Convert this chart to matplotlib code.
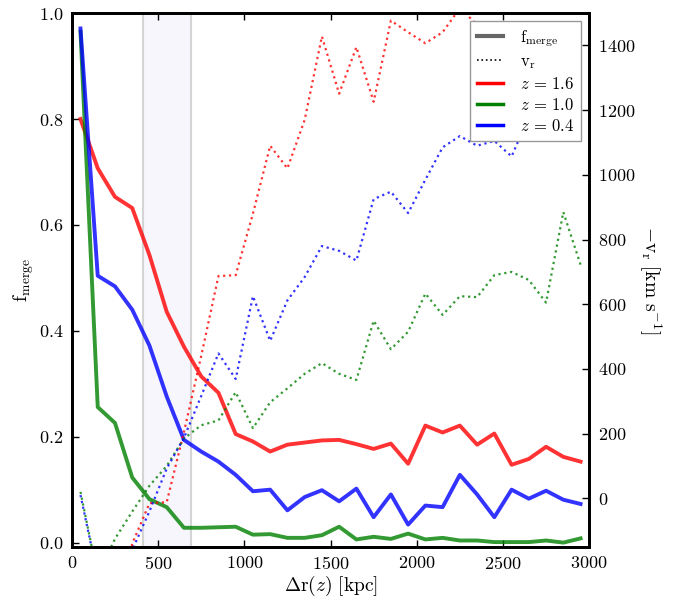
import numpy as np
import matplotlib
matplotlib.use("Agg")
import matplotlib.pyplot as plt
from matplotlib.lines import Line2D

plt.rcParams['font.family'] = 'serif'
plt.rcParams['font.serif'] = ['cmr10', 'DejaVu Serif']
plt.rcParams['mathtext.fontset'] = 'cm'
plt.rcParams['axes.formatter.use_mathtext'] = True
plt.rcParams['font.size'] = 13

# separation bins [kpc]
dr = np.arange(50, 3000, 100)

# merger fraction per redshift
f_z16 = [0.800, 0.707, 0.653, 0.632, 0.543, 0.436, 0.370, 0.314, 0.283, 0.205,
         0.191, 0.172, 0.185, 0.189, 0.193, 0.194, 0.186, 0.177, 0.187, 0.149,
         0.221, 0.208, 0.221, 0.185, 0.206, 0.147, 0.158, 0.181, 0.162, 0.153]
f_z10 = [0.965, 0.256, 0.226, 0.123, 0.082, 0.067, 0.028, 0.028, 0.029, 0.030,
         0.015, 0.016, 0.009, 0.009, 0.014, 0.030, 0.006, 0.011, 0.007, 0.017,
         0.006, 0.009, 0.004, 0.004, 0.001, 0.001, 0.001, 0.004, 0.000, 0.008]
f_z04 = [0.971, 0.504, 0.484, 0.440, 0.372, 0.276, 0.194, 0.172, 0.153, 0.128,
         0.097, 0.100, 0.061, 0.086, 0.099, 0.078, 0.102, 0.048, 0.091, 0.034,
         0.070, 0.067, 0.128, 0.091, 0.048, 0.100, 0.083, 0.098, 0.081, 0.073]

# radial velocity (-v_r) per redshift [km/s]
v_z16 = [-700, -550, -400, -140, -15, -12, 205, 440, 687, 690,
         880, 1090, 1020, 1170, 1428, 1251, 1395, 1226, 1477, 1441,
         1407, 1441, 1515, 1465, 1420, 1380, 1400, 1350, 1380, 1400]
v_z10 = [20, -240, -125, -41, 39, 100, 185, 226, 241, 328,
         217, 297, 340, 385, 418, 385, 366, 549, 461, 515,
         633, 567, 625, 622, 690, 700, 675, 605, 885, 722]
v_z04 = [10, -240, -330, -160, -40, 92, 187, 316, 448, 369,
         625, 487, 612, 684, 780, 765, 735, 925, 948, 882,
         985, 1085, 1120, 1090, 1105, 1057, 1180, 1200, 1250, 1230]

span = (415, 688)

labels = [r'$z\,=\,1.6$', r'$z\,=\,1.0$', r'$z\,=\,0.4$']
colors = ['r', 'g', 'b']
fvals = [f_z16, f_z10, f_z04]
vvals = [v_z16, v_z10, v_z04]

fig = plt.figure(figsize=(6.78, 5.97), dpi=100)
ax1 = fig.add_axes([0.106, 0.084, 0.763, 0.894])
ax2 = ax1.twinx()

ax1.axvspan(span[0], span[1], facecolor='#f6f6fc', edgecolor='#d4d4d4', lw=1.5, zorder=0)

for f, c in zip(fvals, colors):
    ax1.plot(dr, f, '-', color=c, alpha=0.8, lw=2.8)
for v, c in zip(vvals, colors):
    ax2.plot(dr, v, ':', color=c, alpha=0.8, lw=1.6)

ax1.set_xlim(0, 3000)
ax1.set_ylim(-0.008, 1.0)
ax2.set_ylim(-150, 1500)
ax1.set_xticks(np.arange(0, 3001, 500))
ax1.set_yticks(np.arange(0, 1.01, 0.2))
ax2.set_yticks(np.arange(0, 1401, 200))

ax1.set_xlabel(r'$\Delta\mathrm{r}(z)\ [\mathrm{kpc}]$', fontsize=14, labelpad=1)
ax1.set_ylabel(r'$\mathrm{f_{merge}}$', fontsize=14, labelpad=2)
ax2.set_ylabel(r'$-\mathrm{v_r}\ [\mathrm{km\ s^{-1}}]$', fontsize=14,
               rotation=270, labelpad=20)

ax1.tick_params(direction='in', length=5, width=1, top=True, right=False, pad=6)
ax2.tick_params(direction='in', length=5, width=1, pad=6)
for ax in (ax1, ax2):
    for s in ax.spines.values():
        s.set_linewidth(2)

handles = [Line2D([], [], color='#666666', lw=3),
           Line2D([], [], color='k', ls=':', lw=1.2)]
handles += [Line2D([], [], color=c, lw=2.5) for c in colors]
names = [r'$\mathrm{f_{merge}}$', r'$\mathrm{v_r}$'] + labels
leg = ax2.legend(handles, names, loc='upper right', fontsize=12, handlelength=1.6,
                 fancybox=False, framealpha=1, edgecolor='#999999',
                 borderaxespad=0.5, labelspacing=0.3, handletextpad=1.0)
leg.get_frame().set_linewidth(1)

fig.savefig('out.png', dpi=100)
